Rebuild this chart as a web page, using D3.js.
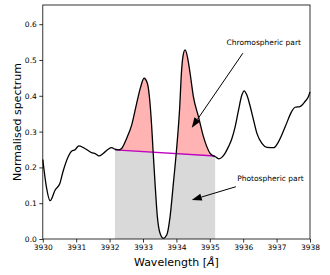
<!DOCTYPE html>
<html>
<head>
<meta charset="utf-8">
<script src="https://cdn.jsdelivr.net/npm/d3@7"></script>
<style>
  html, body { margin: 0; padding: 0; background: #fff; }
  svg { display: block; font-family: "DejaVu Sans", sans-serif; }
</style>
</head>
<body>
<svg id="chart" width="330" height="275"></svg>
<script>
// ---- data ----
const wavelength = [3930.00, 3930.10, 3930.22, 3930.37, 3930.51, 3930.61, 3930.76, 3930.87, 3930.96, 3931.08,
  3931.20, 3931.31, 3931.46, 3931.58, 3931.68, 3931.81, 3931.95, 3932.06, 3932.16, 3932.26,
  3932.36, 3932.51, 3932.66, 3932.81, 3932.93, 3933.03, 3933.13, 3933.21, 3933.26, 3933.30,
  3933.36, 3933.43, 3933.51, 3933.61, 3933.71, 3933.81, 3933.91, 3934.00, 3934.10, 3934.15,
  3934.20, 3934.26, 3934.33, 3934.41, 3934.51, 3934.66, 3934.81, 3934.91, 3935.01, 3935.11,
  3935.18, 3935.26, 3935.36, 3935.46, 3935.56, 3935.66, 3935.76, 3935.86, 3935.96, 3936.03,
  3936.11, 3936.21, 3936.31, 3936.41, 3936.56, 3936.71, 3936.91, 3937.06, 3937.26, 3937.45,
  3937.55, 3937.70, 3937.85, 3937.95, 3938.00];
const flux = [0.222, 0.150, 0.107, 0.137, 0.155, 0.190, 0.230, 0.246, 0.249, 0.260,
  0.256, 0.250, 0.241, 0.238, 0.232, 0.239, 0.250, 0.255, 0.251, 0.249,
  0.253, 0.281, 0.318, 0.379, 0.425, 0.449, 0.435, 0.379, 0.314, 0.249,
  0.156, 0.062, 0.016, 0.002, 0.011, 0.062, 0.156, 0.245, 0.370, 0.463,
  0.512, 0.528, 0.509, 0.463, 0.397, 0.342, 0.286, 0.258, 0.239, 0.232,
  0.229, 0.224, 0.228, 0.240, 0.258, 0.280, 0.314, 0.360, 0.402, 0.414,
  0.402, 0.370, 0.332, 0.295, 0.267, 0.256, 0.255, 0.272, 0.314, 0.356,
  0.368, 0.370, 0.384, 0.397, 0.411];
// integration window and pseudo-continuum
const bandEdges = [3932.16, 3935.16];
const continuum = [0.249, 0.232];
const xTicks = [3930, 3931, 3932, 3933, 3934, 3935, 3936, 3937, 3938];
const yTicks = [0.0, 0.1, 0.2, 0.3, 0.4, 0.5, 0.6];
// annotations: [textX, textY, arrowTailX, arrowTailY, tipX, tipY]
const annChromo = { label: "Chromospheric part", text: [3935.50, 0.543], tail: [3935.99, 0.519], tip: [3934.46, 0.311] };
const annPhoto  = { label: "Photospheric part",  text: [3935.82, 0.161], tail: [3935.78, 0.146], tip: [3934.46, 0.109] };

// ---- layout ----
const W = 330, H = 275;
const m = { left: 42.8, right: 20, top: 5, bottom: 36 };
const svg = d3.select("#chart");
const x = d3.scaleLinear().domain([3930, 3938]).range([m.left, W - m.right]);
const y = d3.scaleLinear().domain([0, 0.6536]).range([H - m.bottom, m.top]);

const pts = wavelength.map((w, i) => [w, flux[i]]);
const curve = d3.curveMonotoneX;

const defs = svg.append("defs");
const xa = x(bandEdges[0]), xb = x(bandEdges[1]);
const ya = y(continuum[0]), yb = y(continuum[1]);
defs.append("clipPath").attr("id", "below").append("polygon")
  .attr("points", [[xa, y(0)], [xa, ya], [xb, yb], [xb, y(0)]].map(p => p.join(",")).join(" "));
defs.append("clipPath").attr("id", "above").append("polygon")
  .attr("points", [[xa, m.top - 5], [xa, ya], [xb, yb], [xb, m.top - 5]].map(p => p.join(",")).join(" "));

const areaUnder = d3.area().x(d => x(d[0])).y0(y(0)).y1(d => y(d[1])).curve(curve);

// gray: photospheric part (0 .. min(flux, continuum))
svg.append("path").datum(pts).attr("d", areaUnder)
  .attr("fill", "#d9d9d9").attr("clip-path", "url(#below)");
// pink: chromospheric part (continuum .. flux)
svg.append("path").datum(pts).attr("d", areaUnder)
  .attr("fill", "#ffb3b3").attr("clip-path", "url(#above)");

// pseudo-continuum line
svg.append("line")
  .attr("x1", xa).attr("y1", ya).attr("x2", xb).attr("y2", yb)
  .attr("stroke", "#bf00bf").attr("stroke-width", 1.4);

// spectrum
svg.append("path").datum(pts)
  .attr("d", d3.line().x(d => x(d[0])).y(d => y(d[1])).curve(curve))
  .attr("fill", "none").attr("stroke", "#000").attr("stroke-width", 1.3)
  .attr("stroke-linejoin", "round");

// axes
const gx = svg.append("g").attr("transform", `translate(0,${H - m.bottom})`)
  .call(d3.axisBottom(x).tickValues(xTicks).tickFormat(d3.format("d")).tickSize(3.5).tickPadding(2.5));
const gy = svg.append("g").attr("transform", `translate(${m.left},0)`)
  .call(d3.axisLeft(y).tickValues(yTicks).tickFormat(d3.format(".1f")).tickSize(3.5).tickPadding(2.5));
[gx, gy].forEach(g => {
  g.select(".domain").remove();
  g.selectAll("line").attr("stroke", "#000").attr("stroke-width", 0.8);
  g.selectAll("text").attr("font-size", 7.5).attr("fill", "#000").attr("font-family", "DejaVu Sans");
});

// frame
svg.append("rect").attr("x", m.left).attr("y", m.top)
  .attr("width", W - m.right - m.left).attr("height", H - m.bottom - m.top)
  .attr("fill", "none").attr("stroke", "#000").attr("stroke-width", 0.8);

// axis labels
const xl = svg.append("text").attr("x", (m.left + W - m.right) / 2).attr("y", 265.5)
  .attr("text-anchor", "middle").attr("font-size", 11).attr("fill", "#000");
xl.append("tspan").text("Wavelength [");
xl.append("tspan").attr("font-style", "italic").text("Å");
xl.append("tspan").text("]");

svg.append("text").attr("transform", `translate(20.5,${(m.top + H - m.bottom) / 2}) rotate(-90)`)
  .attr("text-anchor", "middle").attr("font-size", 11).attr("fill", "#000")
  .text("Normalised spectrum");

// annotations
function annotate(a) {
  svg.append("text").attr("x", x(a.text[0])).attr("y", y(a.text[1]))
    .attr("font-size", 7.5).attr("fill", "#000").text(a.label);
  const tx = x(a.tail[0]), ty = y(a.tail[1]);
  const px = x(a.tip[0]), py = y(a.tip[1]);
  const dx = px - tx, dy = py - ty, L = Math.hypot(dx, dy);
  const ux = dx / L, uy = dy / L;
  const hl = 10, hw = 3.6;
  const bx = px - ux * hl, by = py - uy * hl;
  svg.append("line").attr("x1", tx).attr("y1", ty).attr("x2", bx).attr("y2", by)
    .attr("stroke", "#000").attr("stroke-width", 1);
  svg.append("polygon")
    .attr("points", [[px, py], [bx - uy * hw, by + ux * hw], [bx + uy * hw, by - ux * hw]].map(p => p.join(",")).join(" "))
    .attr("fill", "#000");
}
annotate(annChromo);
annotate(annPhoto);
</script>
</body>
</html>
